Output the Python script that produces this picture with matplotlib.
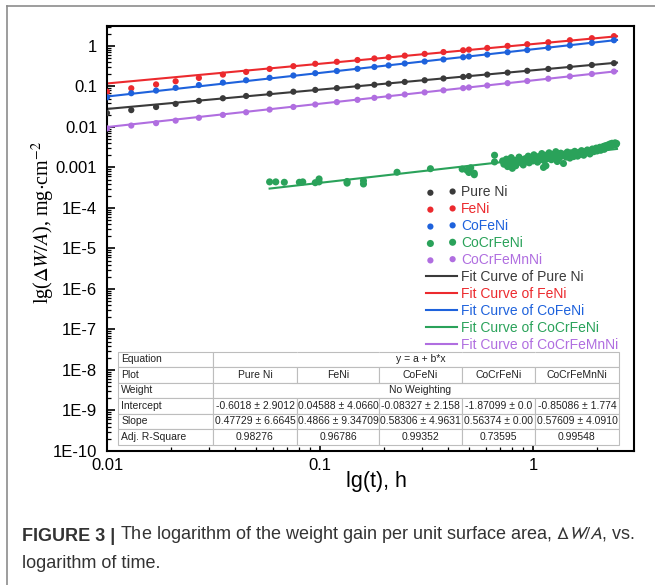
import numpy as np
import matplotlib
matplotlib.use("Agg")
import matplotlib.pyplot as plt
from matplotlib.lines import Line2D
from matplotlib.table import Table
from matplotlib.ticker import LogLocator, NullFormatter

plt.rcParams['font.family'] = ['Liberation Sans', 'DejaVu Sans']

# measured times (h) shared by four alloys
t_main = [0.010, 0.013, 0.017, 0.021, 0.027, 0.035, 0.045, 0.058, 0.075, 0.095,
          0.12, 0.15, 0.18, 0.21, 0.25, 0.31, 0.38, 0.47, 0.50, 0.61,
          0.76, 0.94, 1.18, 1.49, 1.89, 2.40]

pure_ni = [0.022, 0.026, 0.031, 0.037, 0.044, 0.051, 0.058, 0.066, 0.074, 0.082,
           0.091, 0.100, 0.110, 0.117, 0.129, 0.142, 0.157, 0.172, 0.180, 0.196,
           0.219, 0.243, 0.270, 0.301, 0.338, 0.375]
feni = [0.074, 0.090, 0.112, 0.134, 0.162, 0.196, 0.228, 0.270, 0.316, 0.362,
        0.405, 0.448, 0.490, 0.525, 0.575, 0.635, 0.705, 0.78, 0.81, 0.89,
        1.00, 1.10, 1.23, 1.38, 1.55, 1.74]
cofeni = [0.054, 0.068, 0.079, 0.092, 0.108, 0.124, 0.142, 0.163, 0.186, 0.212,
          0.240, 0.272, 0.302, 0.330, 0.368, 0.412, 0.463, 0.525, 0.548, 0.612,
          0.700, 0.790, 0.900, 1.03, 1.19, 1.38]
cocrfemnni = [0.0092, 0.0108, 0.0124, 0.0143, 0.0168, 0.0198, 0.0230, 0.0268, 0.0311, 0.0358,
              0.0410, 0.0466, 0.0522, 0.0566, 0.0633, 0.0712, 0.0800, 0.0908, 0.0942, 0.1055,
              0.1205, 0.1360, 0.1550, 0.1770, 0.2030, 0.2330]

# CoCrFeNi has its own, much denser sampling
t_cocrfeni = [0.058, 0.062, 0.068, 0.080, 0.083, 0.095, 0.099, 0.099, 0.134, 0.134,
              0.16, 0.16, 0.23, 0.33, 0.465, 0.49, 0.51, 0.50, 0.53, 0.53, 0.66, 0.66,
              0.72, 0.73, 0.75, 0.76, 0.78, 0.79, 0.80, 0.80, 0.82, 0.83, 0.85, 0.86,
              0.88, 0.89, 0.90, 0.92, 0.93, 0.95, 0.96, 0.98, 1.00, 1.01, 1.03, 1.05,
              1.06, 1.08, 1.10, 1.11, 1.12, 1.13, 1.15, 1.15, 1.17, 1.19, 1.20, 1.22,
              1.24, 1.26, 1.28, 1.30, 1.31, 1.33, 1.35, 1.37, 1.39, 1.41, 1.43, 1.45,
              1.47, 1.49, 1.51, 1.53, 1.55, 1.57, 1.60, 1.62, 1.64, 1.66, 1.69, 1.71,
              1.73, 1.76, 1.78, 1.80, 1.83, 1.85, 1.88, 1.90, 1.93, 1.95, 1.98, 2.00,
              2.03, 2.06, 2.08, 2.11, 2.14, 2.16, 2.19, 2.22, 2.25, 2.27, 2.30, 2.33,
              2.35, 2.38, 2.40, 2.43, 2.45, 2.47]
cocrfeni = [4.4e-4, 4.4e-4, 4.3e-4, 4.3e-4, 4.4e-4, 4.2e-4, 5.2e-4, 4.4e-4, 4.5e-4, 4.1e-4,
            4.7e-4, 3.9e-4, 7.6e-4, 9.3e-4, 9.1e-4, 8.5e-4, 9.8e-4, 7.5e-4, 6.6e-4, 7.2e-4,
            2.0e-3, 1.37e-3,
            1.45e-3, 1.20e-3, 1.60e-3, 1.05e-3, 1.35e-3, 1.75e-3, 1.25e-3, 0.95e-3, 1.50e-3, 1.10e-3,
            1.40e-3, 1.80e-3, 1.30e-3, 1.55e-3, 1.15e-3, 1.65e-3, 1.40e-3, 1.90e-3, 1.30e-3, 1.60e-3,
            1.45e-3, 2.05e-3, 1.70e-3, 1.35e-3, 1.85e-3, 1.55e-3, 2.20e-3, 1.75e-3, 1.00e-3, 1.45e-3,
            2.00e-3, 1.10e-3, 1.65e-3, 2.30e-3, 1.90e-3, 1.55e-3, 2.10e-3, 1.80e-3, 2.45e-3, 1.40e-3,
            2.00e-3, 1.70e-3, 2.25e-3, 1.95e-3, 1.25e-3, 2.15e-3, 1.80e-3, 2.40e-3, 2.00e-3, 1.70e-3,
            2.30e-3, 2.05e-3, 1.85e-3, 2.50e-3, 2.15e-3, 1.90e-3, 2.35e-3, 2.10e-3, 2.60e-3, 2.25e-3,
            2.00e-3, 2.45e-3, 2.30e-3, 2.70e-3, 2.40e-3, 2.15e-3, 2.60e-3, 2.85e-3, 2.45e-3, 2.70e-3,
            3.00e-3, 2.55e-3, 2.80e-3, 3.15e-3, 2.65e-3, 3.00e-3, 3.30e-3, 2.80e-3, 3.45e-3, 3.10e-3,
            3.60e-3, 3.25e-3, 3.80e-3, 3.40e-3, 3.95e-3, 3.55e-3, 3.75e-3, 4.05e-3, 3.65e-3, 3.90e-3]

alloys = ["Pure Ni", "FeNi", "CoFeNi", "CoCrFeNi", "CoCrFeMnNi"]
colors = ["#3a3a3a", "#ec2a2e", "#1e62dc", "#2aa25a", "#b06ee0"]

# fit results y = a + b*x (lg-lg), as listed in the inset table
intercepts = [-0.6018, 0.04588, -0.08327, -1.87099, -0.85086]
intercept_err = ["2.9012", "4.0660", "2.158", "0.0", "1.774"]
slopes = [0.47729, 0.4866, 0.58306, 0.56374, 0.57609]
slope_err = ["6.6645", "9.34709", "4.9631", "0.00", "4.0910"]
adj_r2 = ["0.98276", "0.96786", "0.99352", "0.73595", "0.99548"]
# the CoCrFeNi line drawn in the figure sits lower than the tabulated one
cocrfeni_line = (-2.78, 0.60)
fit_range = [(0.01, 2.48), (0.01, 2.48), (0.01, 2.48), (0.058, 2.48), (0.01, 2.48)]

y_ticks = [1e-10, 1e-9, 1e-8, 1e-7, 1e-6, 1e-5, 1e-4, 1e-3, 1e-2, 1e-1, 1]
y_tick_labels = ["1E-10", "1E-9", "1E-8", "1E-7", "1E-6", "1E-5", "1E-4",
                 "0.001", "0.01", "0.1", "1"]
x_ticks = [0.01, 0.1, 1]
x_tick_labels = ["0.01", "0.1", "1"]

W, H = 655, 585
fig = plt.figure(figsize=(W / 100, H / 100), dpi=100)
ax = fig.add_axes([107 / W, 134 / H, 527 / W, 425 / H])

series = [pure_ni, feni, cofeni, None, cocrfemnni]
dots = []
lines = []
for i, name in enumerate(alloys):
    if name == "CoCrFeNi":
        tt, yy = t_cocrfeni, cocrfeni
        a, b = cocrfeni_line
        size = 26
    else:
        tt, yy = t_main, series[i]
        a, b = intercepts[i], slopes[i]
        size = 20
    sc = ax.scatter(tt, yy, s=size, color=colors[i], edgecolors='none', zorder=3, label=name)
    dots.append(sc)
    t0, t1 = fit_range[i]
    xx = np.array([t0, t1])
    ln, = ax.plot(xx, 10 ** (a + b * np.log10(xx)), color=colors[i], lw=1.5, zorder=2,
                  label="Fit Curve of " + name)
    lines.append(ln)

ax.set_xscale('log')
ax.set_yscale('log')
ax.set_xlim(0.01, 2.98)
ax.set_ylim(1e-10, 3.1)
ax.set_xticks(x_ticks)
ax.set_xticklabels(x_tick_labels)
ax.set_yticks(y_ticks)
ax.set_yticklabels(y_tick_labels)
for axis in (ax.xaxis, ax.yaxis):
    axis.set_minor_locator(LogLocator(base=10, subs=np.arange(2, 10), numticks=60))
    axis.set_minor_formatter(NullFormatter())
ax.tick_params(which='both', direction='in', top=False, right=False, colors='black')
ax.tick_params(which='major', length=6, width=1.2, labelsize=12)
ax.tick_params(which='minor', length=3, width=0.9)
ax.tick_params(axis='x', which='major', pad=5)
ax.tick_params(axis='y', which='major', pad=7)
for sp in ax.spines.values():
    sp.set_linewidth(1.5)

leg = ax.legend(dots + lines, [d.get_label() for d in dots] + [l.get_label() for l in lines],
                loc='upper right', bbox_to_anchor=(0.97, 0.625), frameon=False,
                fontsize=10, scatterpoints=2, handlelength=2.2, handletextpad=0.3,
                labelspacing=0.21, borderpad=0, borderaxespad=0)
for txt, c in zip(leg.get_texts(), colors * 2):
    txt.set_color(c)

# inset fit table
col_px = [95, 84, 82, 83, 73, 84]
rows = [["Equation", "", "", "y = a + b*x", "", ""],
        ["Plot"] + alloys,
        ["Weight", "", "", "No Weighting", "", ""],
        ["Intercept"] + [f"{a} \u00b1 {e}" for a, e in zip(intercepts, intercept_err)],
        ["Slope"] + [f"{b} \u00b1 {e}" for b, e in zip(slopes, slope_err)],
        ["Adj. R-Square"] + adj_r2]
tab = Table(ax, bbox=[(118 - 107) / 527, 6.3 / 425, 501 / 527, 93 / 425])
for r, row in enumerate(rows):
    for c, txt in enumerate(row):
        cell = tab.add_cell(r, c, width=col_px[c] / 501, height=1 / 6, text=txt,
                            loc='left' if c == 0 else 'center',
                            edgecolor='#bdbdbd', facecolor='white')
        cell.set_linewidth(0.8)
        cell.get_text().set_color('#222222')
        if c == 0:
            cell.PAD = 0.035
        if r in (0, 2) and c > 0:
            cell.visible_edges = 'BTL' if c == 1 else ('BTR' if c == 5 else 'BT')
tab.auto_set_font_size(False)
tab.set_fontsize(7.5)
tab.set_zorder(5)
ax.add_table(tab)

fig.text(376 / W, 1 - 481 / H, "lg(t), h", fontsize=15.5, ha='center', va='center')
fig.text(43 / W, 1 - 222 / H, r"lg($\mathit{\Delta W/A}$), mg$\cdot$cm$^{-2}$",
         family='Liberation Serif', math_fontfamily='stix', fontsize=14.5,
         rotation=90, ha='center', va='center')

# gray frame of the figure panel
fig.add_artist(Line2D([7 / W, 7 / W], [0, 1 - 5.5 / H], transform=fig.transFigure,
                      color='#8c8c8c', lw=1.2))
fig.add_artist(Line2D([7 / W, 1], [1 - 5.5 / H, 1 - 5.5 / H], transform=fig.transFigure,
                      color='#8c8c8c', lw=1.2))

cap1 = fig.text(22 / W, 1 - 541 / H, "FIGURE 3 |", fontsize=13, weight='bold',
                color='#333333', va='baseline')
ax.annotate(r" The logarithm of the weight gain per unit surface area, $\Delta\mathit{W/A}$, vs.",
            xy=(1, 0), xycoords=cap1, ha='left', va='bottom', fontsize=13,
            color='#333333', math_fontfamily='stixsans', annotation_clip=False)
fig.text(22 / W, 1 - 568 / H, "logarithm of time.", fontsize=13, color='#333333',
         va='baseline')

fig.savefig("out.png", dpi=100)
